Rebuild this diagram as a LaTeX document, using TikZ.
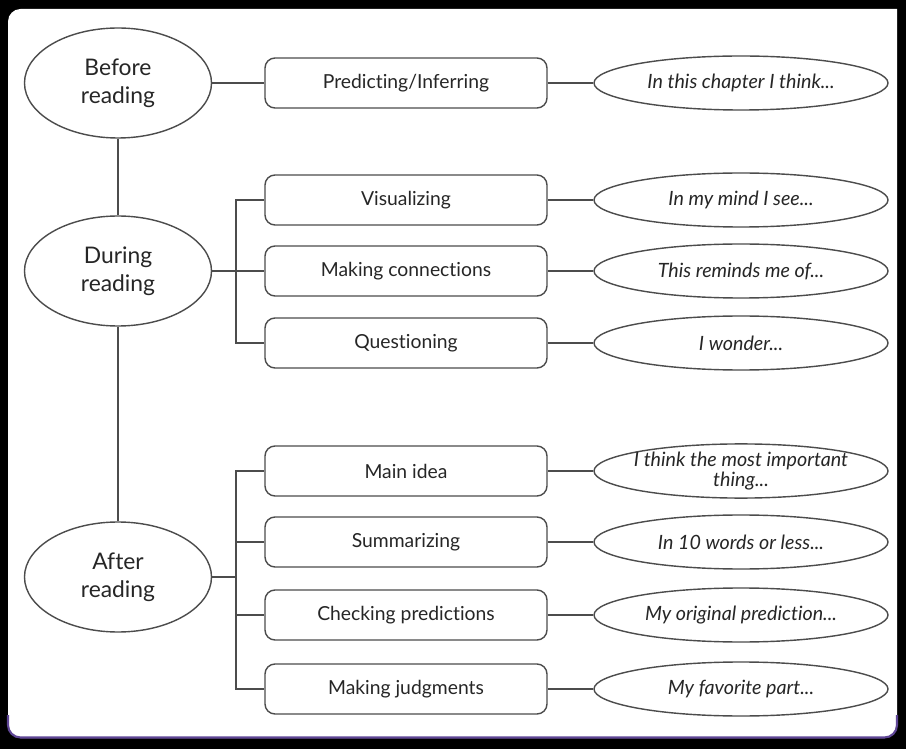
\documentclass[tikz,border=0pt]{standalone}
\usepackage{fontspec}
\setmainfont[Ligatures={NoCommon}]{Lato}
\usepackage{tikz}
\usetikzlibrary{positioning,shapes.geometric,calc}
\definecolor{edgepurple}{RGB}{95,70,150}

\begin{document}
\begin{tikzpicture}[
    x=0.2mm, y=-0.2mm,
    font=\fontsize{11}{13}\selectfont,
    stage/.style={
        ellipse,
        draw=black!70,
        line width=0.8pt,
        inner sep=0pt,
        minimum width=37.4mm,
        minimum height=22mm,
        align=center,
        text=black!85,
        font=\fontsize{13}{16}\selectfont
    },
    strat/.style={
        draw=black!70,
        rounded corners=2mm,
        line width=0.8pt,
        minimum width=56.4mm,
        minimum height=10mm,
        align=center,
        text=black!85
    },
    prompt/.style={
        ellipse,
        draw=black!70,
        line width=0.8pt,
        inner sep=0pt,
        minimum width=58.8mm,
        minimum height=10.8mm,
        align=center,
        text=black!85,
        font=\fontsize{11.2}{11.5}\selectfont\itshape
    },
    link/.style={draw=black!70, line width=0.8pt}
]

% frame
\fill[black] (0,0) rectangle (906,749);
\fill[white] (8,9) -- (897,9) [rounded corners=2.5mm] -- (897,738) -- (8,738) -- cycle;
\draw[edgepurple, line width=1.2pt, rounded corners=2.5mm]
    (8,715) -- (8,737.5) -- (897,737.5) -- (897,715);

% stages
\node[stage] (before) at (118,83) {Before\\reading};
\node[stage] (during) at (118,271) {During\\reading};
\node[stage] (after)  at (118,577) {After\\reading};

\draw[link] (before) -- (during);
\draw[link] (during) -- (after);

% strategies
\node[strat] (pred)  at (406,83)  {Predicting/Inferring};
\node[strat] (vis)   at (406,200) {Visualizing};
\node[strat] (conn)  at (406,271) {Making connections};
\node[strat] (quest) at (406,343) {Questioning};
\node[strat] (main)  at (406,471) {Main idea};
\node[strat] (summ)  at (406,542) {Summarizing};
\node[strat] (check) at (406,615) {Checking predictions};
\node[strat] (judge) at (406,689) {Making judgments};

% prompts
\node[prompt] (p1) at (741,83)  {In this chapter I think...};
\node[prompt] (p2) at (741,200) {In my mind I see...};
\node[prompt] (p3) at (741,271) {This reminds me of...};
\node[prompt] (p4) at (741,343) {I wonder...};
\node[prompt, inner xsep=-2.5mm] (p5) at (741,471) {I think the most important\\thing...};
\node[prompt] (p6) at (741,542) {In 10 words or less...};
\node[prompt] (p7) at (741,615) {My original prediction...};
\node[prompt] (p8) at (741,689) {My favorite part...};

% before reading
\draw[link] (before) -- (pred);

% during reading
\coordinate (dbus) at (236,271);
\draw[link] (during) -- (dbus);
\draw[link] (dbus) |- (vis.west);
\draw[link] (dbus) -- (conn.west);
\draw[link] (dbus) |- (quest.west);

% after reading
\coordinate (abus) at (236,577);
\draw[link] (after) -- (abus);
\draw[link] (abus) |- (main.west);
\draw[link] (abus) |- (summ.west);
\draw[link] (abus) |- (check.west);
\draw[link] (abus) |- (judge.west);

% strategy to prompt
\foreach \s/\p in {pred/p1,vis/p2,conn/p3,quest/p4,main/p5,summ/p6,check/p7,judge/p8}
    \draw[link] (\s) -- (\p);

\end{tikzpicture}
\end{document}
